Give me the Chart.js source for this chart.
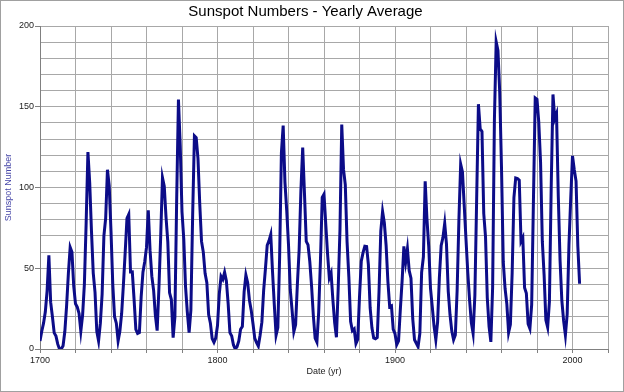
<!DOCTYPE html>
<html>
<head>
<meta charset="utf-8">
<script src="https://cdn.jsdelivr.net/npm/chart.js@4.4.0/dist/chart.umd.min.js"></script>
<style>
  html, body { margin: 0; padding: 0; background: #fff; }
  #wrap { width: 624px; height: 392px; }
</style>
</head>
<body>
<div id="wrap"><canvas id="sunspots" width="624" height="392"></canvas></div>
<script>
// dados: médias anuais de manchas solares
const years = [
  1700,1701,1702,1703,1704,1705,1706,1707,1708,1709,1710,1711,1712,1713,1714,1715,1716,1717,1718,1719,
  1720,1721,1722,1723,1724,1725,1726,1727,1728,1729,1730,1731,1732,1733,1734,1735,1736,1737,1738,1739,
  1740,1741,1742,1743,1744,1745,1746,1747,1748,1749,1750,1751,1752,1753,1754,1755,1756,1757,1758,1759,
  1760,1761,1762,1763,1764,1765,1766,1767,1768,1769,1770,1771,1772,1773,1774,1775,1776,1777,1778,1779,
  1780,1781,1782,1783,1784,1785,1786,1787,1788,1789,1790,1791,1792,1793,1794,1795,1796,1797,1798,1799,
  1800,1801,1802,1803,1804,1805,1806,1807,1808,1809,1810,1811,1812,1813,1814,1815,1816,1817,1818,1819,
  1820,1821,1822,1823,1824,1825,1826,1827,1828,1829,1830,1831,1832,1833,1834,1835,1836,1837,1838,1839,
  1840,1841,1842,1843,1844,1845,1846,1847,1848,1849,1850,1851,1852,1853,1854,1855,1856,1857,1858,1859,
  1860,1861,1862,1863,1864,1865,1866,1867,1868,1869,1870,1871,1872,1873,1874,1875,1876,1877,1878,1879,
  1880,1881,1882,1883,1884,1885,1886,1887,1888,1889,1890,1891,1892,1893,1894,1895,1896,1897,1898,1899,
  1900,1901,1902,1903,1904,1905,1906,1907,1908,1909,1910,1911,1912,1913,1914,1915,1916,1917,1918,1919,
  1920,1921,1922,1923,1924,1925,1926,1927,1928,1929,1930,1931,1932,1933,1934,1935,1936,1937,1938,1939,
  1940,1941,1942,1943,1944,1945,1946,1947,1948,1949,1950,1951,1952,1953,1954,1955,1956,1957,1958,1959,
  1960,1961,1962,1963,1964,1965,1966,1967,1968,1969,1970,1971,1972,1973,1974,1975,1976,1977,1978,1979,
  1980,1981,1982,1983,1984,1985,1986,1987,1988,1989,1990,1991,1992,1993,1994,1995,1996,1997,1998,1999,
  2000,2001,2002,2003,2004
];
const sunspots = [
  5,11,16,23,36,58,29,20,10,8,3,0,0,2,11,27,47,63,60,39,
  28,26,22,11,21,40,78,122,103,73,47,35,11,5,16,34,70,81,111,101,
  73,40,20,16,5,11,22,40,60,80.9,83.4,47.7,47.8,30.7,12.2,9.6,10.2,32.4,47.6,54,
  62.9,85.9,61.2,45.1,36.4,20.9,11.4,37.8,69.8,106.1,100.8,81.6,66.5,34.8,30.6,7,19.8,92.5,154.4,125.9,
  84.8,68.1,38.5,22.8,10.2,24.1,82.9,132,130.9,118.1,89.9,66.6,60,46.9,41,21.3,16,6.4,4.1,6.8,
  14.5,34,45,43.1,47.5,42.2,28.1,10.1,8.1,2.5,0,1.4,5,12.2,13.9,35.4,45.8,41.1,30.1,23.9,
  15.6,6.6,4,1.8,8.5,16.6,36.3,49.6,64.2,67,70.9,47.8,27.5,8.5,13.2,56.9,121.5,138.3,103.2,85.7,
  64.6,36.7,24.2,10.7,15,40.1,61.5,98.5,124.7,96.3,66.6,64.5,54.1,39,20.6,6.7,4.3,22.7,54.8,93.8,
  95.8,77.2,59.1,44,47,30.5,16.3,7.3,37.6,74,139,111.2,101.6,66.2,44.7,17,11.3,12.4,3.4,6,
  32.3,54.3,59.7,63.7,63.5,52.2,25.4,13.1,6.8,6.3,7.1,35.6,73,85.1,78,64,41.8,26.2,26.7,12.1,
  9.5,2.7,5,24.4,42,63.5,53.8,62,48.5,43.9,18.6,5.7,3.6,1.4,9.6,47.4,57.1,103.9,80.6,63.6,
  37.6,26.1,14.2,5.8,16.7,44.3,63.9,69,77.8,64.9,35.7,21.2,11.1,5.7,8.7,36.1,79.7,114.4,109.6,88.8,
  67.8,47.5,30.6,16.3,9.6,33.2,92.6,151.6,136.3,134.7,83.9,69.4,31.5,13.9,4.4,38,141.7,190.2,184.8,159,
  112.3,53.9,37.6,27.9,10.2,15.1,47,93.8,105.9,105.5,104.5,66.6,68.9,38,34.5,15.5,12.6,27.5,92.5,155.4,
  154.6,140.4,115.9,66.6,45.9,17.9,13.4,29.4,100.2,157.6,142.6,145.7,94.3,54.6,29.9,17.5,8.6,21.5,64.3,93.3,
  119.6,111,104,63.7,40.4
];

// moldura cinza em volta da imagem
const frame = {
  id: 'frame',
  afterDraw(chart) {
    const ctx = chart.ctx;
    ctx.save();
    ctx.strokeStyle = '#a0a0a0';
    ctx.lineWidth = 1;
    ctx.strokeRect(0.5, 0.5, chart.width - 1, chart.height - 1);
    ctx.restore();
  }
};

const points = years.map((y, i) => ({ x: y, y: sunspots[i] }));

const ctx = document.getElementById('sunspots').getContext('2d');
const chart = new Chart(ctx, {
  type: 'line',
  data: {
    datasets: [{
      label: 'Sunspot Number',
      data: points,
      fill: false,
      borderColor: '#0c0c88',
      borderWidth: 3,
      tension: 0,
      pointRadius: 0
    }]
  },
  options: {
    responsive: false,
    animation: false,
    layout: { padding: { left: 3, right: 16, top: 0, bottom: 15 } },
    plugins: {
      legend: { display: false },
      tooltip: { enabled: false },
      title: {
        display: true,
        text: 'Sunspot Numbers - Yearly Average',
        color: '#000',
        font: { family: 'Arial', size: 15, weight: 'normal' },
        padding: { top: 3, bottom: 5 }
      }
    },
    scales: {
      x: {
        type: 'linear',
        min: 1700,
        max: 2020,
        afterFit: (s) => { s.height = 28; },
        border: { color: '#808080' },
        grid: { color: '#a8a8a8', tickColor: '#808080', tickLength: 4 },
        ticks: {
          stepSize: 20,
          autoSkip: false,
          maxRotation: 0,
          padding: 2,
          color: '#222',
          font: { family: 'Arial', size: 9 },
          callback: (v) => (v % 100 === 0 && v < 2020 ? String(v) : '')
        },
        title: {
          display: true,
          text: 'Date (yr)',
          color: '#222',
          font: { family: 'Arial', size: 9 },
          padding: 0
        }
      },
      y: {
        min: 0,
        max: 200,
        afterFit: (s) => { s.width = 37; },
        border: { color: '#808080' },
        grid: {
          color: '#a8a8a8',
          tickLength: 5,
          tickColor: (c) => (c.tick && c.tick.value % 50 === 0 ? '#808080' : 'rgba(0,0,0,0)')
        },
        ticks: {
          stepSize: 10,
          autoSkip: false,
          padding: 1,
          color: '#222',
          font: { family: 'Arial', size: 9 },
          callback: (v) => (v % 50 === 0 ? String(v) : '')
        },
        title: {
          display: true,
          text: 'Sunspot Number',
          color: '#4646a8',
          font: { family: 'Arial', size: 9 },
          padding: 0
        }
      }
    }
  },
  plugins: [frame]
});
</script>
</body>
</html>
